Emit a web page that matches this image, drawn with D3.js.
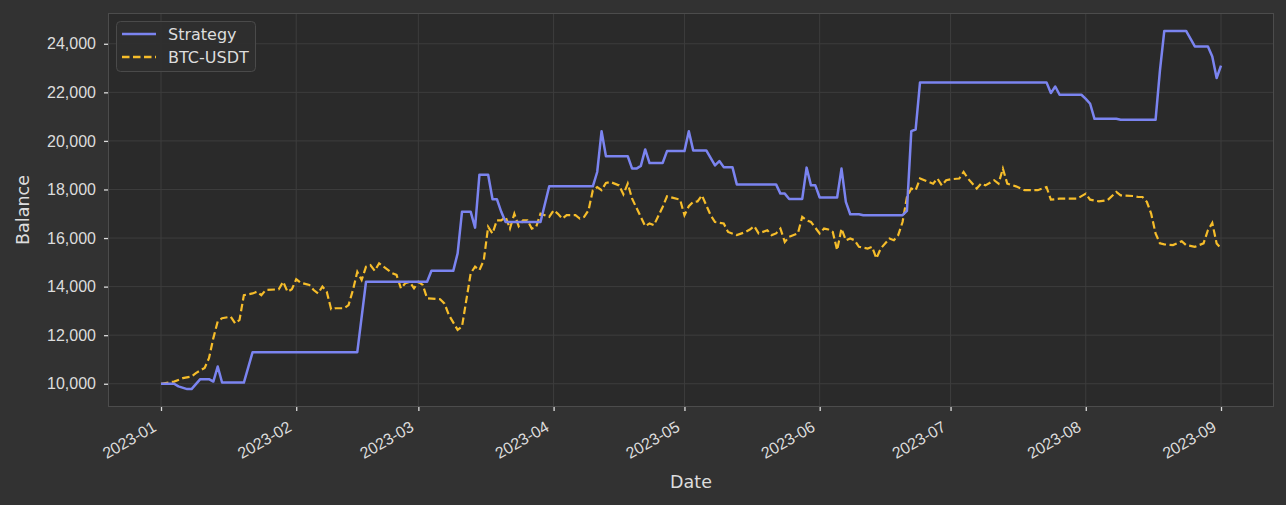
<!DOCTYPE html>
<html><head><meta charset="utf-8">
<script src="https://cdn.jsdelivr.net/npm/d3@7"></script>
<style>
html,body{margin:0;padding:0;background:#323232;}
svg{display:block;font-family:"DejaVu Sans",sans-serif;}
</style></head>
<body><svg id="chart" width="1286" height="505"></svg>
<script>
const stratDates = ["2023-01-01","2023-01-04","2023-01-05","2023-01-07","2023-01-08","2023-01-10","2023-01-12","2023-01-13","2023-01-14","2023-01-15","2023-01-20","2023-01-22","2023-02-15","2023-02-17","2023-03-03","2023-03-04","2023-03-09","2023-03-10","2023-03-11","2023-03-13","2023-03-14","2023-03-15","2023-03-17","2023-03-18","2023-03-19","2023-03-20","2023-03-21","2023-03-29","2023-03-31","2023-04-10","2023-04-11","2023-04-12","2023-04-13","2023-04-18","2023-04-19","2023-04-20","2023-04-21","2023-04-22","2023-04-23","2023-04-26","2023-04-27","2023-05-01","2023-05-02","2023-05-03","2023-05-06","2023-05-08","2023-05-09","2023-05-10","2023-05-12","2023-05-13","2023-05-22","2023-05-23","2023-05-24","2023-05-25","2023-05-28","2023-05-29","2023-05-30","2023-05-31","2023-06-01","2023-06-05","2023-06-06","2023-06-07","2023-06-08","2023-06-10","2023-06-11","2023-06-20","2023-06-21","2023-06-22","2023-06-23","2023-06-24","2023-07-23","2023-07-24","2023-07-25","2023-07-26","2023-07-31","2023-08-01","2023-08-02","2023-08-03","2023-08-08","2023-08-09","2023-08-17","2023-08-18","2023-08-19","2023-08-24","2023-08-26","2023-08-29","2023-08-30","2023-08-31","2023-09-01"];
const stratValues = [10000,10000,9890,9780,9780,10190,10190,10090,10710,10050,10050,11300,11300,14200,14200,14650,14650,15370,17080,17080,16430,18610,18610,17600,17600,17080,16660,16660,18130,18130,18720,20400,19370,19370,18860,18860,18970,19650,19090,19090,19580,19580,20400,19610,19610,18990,19170,18920,18920,18210,18210,17830,17830,17610,17610,18900,18170,18170,17670,17670,18860,17490,16980,16980,16940,16940,17120,20400,20470,22410,22410,21970,22240,21900,21900,21730,21530,20910,20910,20870,20870,22890,24530,24530,23890,23890,23480,22590,23100];

const btcDates = ["2023-01-01","2023-01-04","2023-01-06","2023-01-08","2023-01-09","2023-01-11","2023-01-12","2023-01-13","2023-01-14","2023-01-15","2023-01-17","2023-01-18","2023-01-19","2023-01-20","2023-01-22","2023-01-23","2023-01-24","2023-01-25","2023-01-28","2023-01-29","2023-01-30","2023-01-31","2023-02-01","2023-02-02","2023-02-04","2023-02-05","2023-02-06","2023-02-07","2023-02-08","2023-02-09","2023-02-10","2023-02-12","2023-02-13","2023-02-14","2023-02-15","2023-02-16","2023-02-17","2023-02-18","2023-02-19","2023-02-20","2023-02-23","2023-02-24","2023-02-25","2023-02-26","2023-02-27","2023-02-28","2023-03-01","2023-03-02","2023-03-03","2023-03-06","2023-03-07","2023-03-08","2023-03-10","2023-03-11","2023-03-13","2023-03-14","2023-03-15","2023-03-16","2023-03-17","2023-03-18","2023-03-19","2023-03-20","2023-03-21","2023-03-22","2023-03-23","2023-03-24","2023-03-25","2023-03-26","2023-03-27","2023-03-28","2023-03-29","2023-03-31","2023-04-01","2023-04-02","2023-04-03","2023-04-04","2023-04-06","2023-04-07","2023-04-08","2023-04-09","2023-04-10","2023-04-11","2023-04-12","2023-04-13","2023-04-14","2023-04-16","2023-04-17","2023-04-18","2023-04-19","2023-04-21","2023-04-22","2023-04-23","2023-04-24","2023-04-26","2023-04-27","2023-04-30","2023-05-01","2023-05-02","2023-05-03","2023-05-04","2023-05-05","2023-05-06","2023-05-07","2023-05-08","2023-05-10","2023-05-11","2023-05-13","2023-05-15","2023-05-16","2023-05-17","2023-05-18","2023-05-20","2023-05-21","2023-05-22","2023-05-23","2023-05-24","2023-05-25","2023-05-27","2023-05-28","2023-05-29","2023-05-30","2023-06-01","2023-06-02","2023-06-03","2023-06-04","2023-06-05","2023-06-06","2023-06-07","2023-06-08","2023-06-09","2023-06-10","2023-06-12","2023-06-13","2023-06-14","2023-06-15","2023-06-17","2023-06-18","2023-06-19","2023-06-20","2023-06-21","2023-06-22","2023-06-23","2023-06-24","2023-06-26","2023-06-27","2023-06-28","2023-06-29","2023-06-30","2023-07-01","2023-07-03","2023-07-04","2023-07-05","2023-07-07","2023-07-08","2023-07-09","2023-07-11","2023-07-12","2023-07-13","2023-07-14","2023-07-16","2023-07-18","2023-07-19","2023-07-21","2023-07-23","2023-07-24","2023-07-26","2023-07-30","2023-08-01","2023-08-02","2023-08-04","2023-08-06","2023-08-08","2023-08-09","2023-08-12","2023-08-13","2023-08-14","2023-08-15","2023-08-16","2023-08-17","2023-08-18","2023-08-19","2023-08-21","2023-08-23","2023-08-24","2023-08-26","2023-08-28","2023-08-29","2023-08-30","2023-08-31","2023-09-01"];
const btcValues = [10000,10090,10230,10300,10440,10650,11050,11880,12560,12700,12760,12490,12630,13650,13720,13790,13650,13860,13890,14200,13790,13890,14300,14160,14070,13860,13720,14000,13790,13070,13110,13110,13240,13860,14610,14270,14820,14890,14650,14960,14550,14480,13930,14140,14200,13930,14200,14070,13520,13480,13300,12830,12220,12350,14550,14820,14680,15090,16460,16190,16730,16730,16870,16390,17000,16490,16730,16730,16390,16460,17000,16870,17140,17000,16800,16940,16940,16800,16870,17140,17970,18100,17970,18270,18310,18170,17800,18240,17620,16870,16490,16600,16530,17280,17720,17580,16940,17310,17490,17510,17760,17350,16940,16660,16600,16250,16120,16250,16350,16490,16190,16320,16120,16190,16390,15840,16050,16190,16870,16730,16660,16190,16390,16350,16250,15500,16390,15910,15980,15910,15640,15570,15640,15160,15570,15980,15910,16120,16660,17690,18040,17970,18450,18310,18240,18450,18170,18380,18420,18450,18720,18450,18040,18240,18170,18380,18240,18860,18240,18130,17970,17970,17970,18100,17580,17620,17620,17830,17580,17510,17560,17900,17760,17730,17690,17690,17490,17000,16190,15780,15740,15710,15870,15710,15640,15780,16320,16620,15780,15570];

const seriesNames = ["Strategy","BTC-USDT"];
const yTicks = [10000,12000,14000,16000,18000,20000,22000,24000];
const xTickLabels = ["2023-01","2023-02","2023-03","2023-04","2023-05","2023-06","2023-07","2023-08","2023-09"];

const parse = d3.timeParse("%Y-%m-%d");
const strat = stratDates.map((d,i)=>({date:parse(d), value:stratValues[i]}));
const btc = btcDates.map((d,i)=>({date:parse(d), value:btcValues[i]}));

const svg = d3.select("#chart");
const W = 1286, H = 505;
const m = {left:108, right:12, top:13, bottom:98};
const pw = W - m.left - m.right, ph = H - m.top - m.bottom;

svg.append("rect").attr("width",W).attr("height",H).attr("fill","#323232");

const all = strat.concat(btc);
const xExt = d3.extent(all, d=>d.date);
const span = xExt[1]-xExt[0];
const x = d3.scaleTime()
  .domain([new Date(+xExt[0]-span*0.05), new Date(+xExt[1]+span*0.05)])
  .range([m.left, m.left+pw]);
const yMin = d3.min(all,d=>d.value), yMax = d3.max(all,d=>d.value);
const yPad = (yMax-yMin)*0.05;
const y = d3.scaleLinear().domain([yMin-yPad, yMax+yPad]).range([m.top+ph, m.top]);

svg.append("rect").attr("x",m.left).attr("y",m.top).attr("width",pw).attr("height",ph)
  .attr("fill","#2a2a2a");

const xTicks = xTickLabels.map(s=>d3.timeParse("%Y-%m")(s));

// grid
const grid = svg.append("g");
grid.selectAll(".gx").data(xTicks).join("line")
  .attr("x1",d=>x(d)).attr("x2",d=>x(d)).attr("y1",m.top).attr("y2",m.top+ph)
  .attr("stroke","#3d3d3d").attr("stroke-width",1);
grid.selectAll(".gy").data(yTicks).join("line")
  .attr("x1",m.left).attr("x2",m.left+pw).attr("y1",d=>y(d)).attr("y2",d=>y(d))
  .attr("stroke","#3d3d3d").attr("stroke-width",1);

// frame
svg.append("rect").attr("x",m.left+0.5).attr("y",m.top+0.5).attr("width",pw-1).attr("height",ph-1)
  .attr("fill","none").attr("stroke","#4c4c4c").attr("stroke-width",1);

// axes
const xAxis = d3.axisBottom(x).tickValues(xTicks).tickFormat(d3.timeFormat("%Y-%m")).tickSize(4).tickPadding(5);
const gx = svg.append("g").attr("transform",`translate(0,${m.top+ph})`).call(xAxis);
gx.select(".domain").remove();
gx.selectAll(".tick line").attr("stroke","#dddddd").attr("stroke-width",1.3);
gx.selectAll(".tick text").attr("fill","#dddddd").style("font-size","16px")
  .attr("text-anchor","end").attr("x",0).attr("y",0).attr("dy",0)
  .attr("transform","translate(-4,23) rotate(-30)");

const yAxis = d3.axisLeft(y).tickValues(yTicks).tickFormat(d3.format(",")).tickSize(4).tickPadding(8);
const gy = svg.append("g").attr("transform",`translate(${m.left},0)`).call(yAxis);
gy.select(".domain").remove();
gy.selectAll(".tick line").attr("stroke","#dddddd").attr("stroke-width",1.3);
gy.selectAll(".tick text").attr("fill","#dddddd").style("font-size","16px");

svg.append("text").attr("x",m.left+pw/2).attr("y",488).attr("text-anchor","middle")
  .attr("fill","#dddddd").style("font-size","17.5px").text("Date");
svg.append("text").attr("transform",`translate(29,${m.top+ph/2}) rotate(-90)`).attr("text-anchor","middle")
  .attr("fill","#dddddd").style("font-size","17.5px").text("Balance");

// lines
const line = d3.line().x(d=>x(d.date)).y(d=>y(d.value));
const colors = ["#7b84f0","#f6bd2a"];
svg.append("path").datum(btc).attr("d",line).attr("fill","none")
  .attr("stroke",colors[1]).attr("stroke-width",2.2).attr("stroke-dasharray","7.5,3.5");
svg.append("path").datum(strat).attr("d",line).attr("fill","none")
  .attr("stroke",colors[0]).attr("stroke-width",2.5).attr("stroke-linejoin","round");

// legend
const lg = svg.append("g");
lg.append("rect").attr("x",116.5).attr("y",21.5).attr("width",139).attr("height",50).attr("rx",4)
  .attr("fill","#2f2f2f").attr("fill-opacity",0.9).attr("stroke","#4a4a4a");
seriesNames.forEach((n,i)=>{
  const yy = 34 + i*23;
  lg.append("line").attr("x1",122).attr("x2",156).attr("y1",yy).attr("y2",yy)
    .attr("stroke",colors[i]).attr("stroke-width",2.4)
    .attr("stroke-dasharray", i===1 ? "7.5,3.5" : null);
  lg.append("text").attr("x",168).attr("y",yy).attr("dy","0.35em")
    .attr("fill","#dddddd").style("font-size","16px").text(n);
});
</script></body></html>
